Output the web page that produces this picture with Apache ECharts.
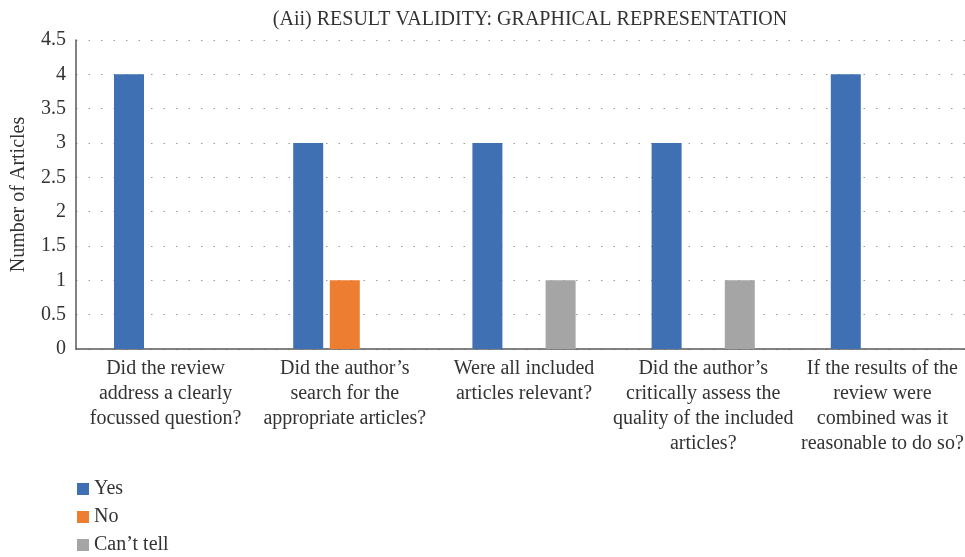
<!DOCTYPE html>
<html>
<head>
<meta charset="utf-8">
<script src="https://cdn.jsdelivr.net/npm/echarts@6/dist/echarts.min.js"></script>
<style>
    html, body { margin: 0; padding: 0; background: #fff; }
    #chart { width: 965px; height: 557px; }
</style>
</head>
<body>
<div id="chart"></div>
<script>
    // chart data
    const categories = [
        'Did the review\naddress a clearly\nfocussed question?',
        'Did the author\u2019s\nsearch for the\nappropriate articles?',
        'Were all included\narticles relevant?',
        'Did the author\u2019s\ncritically assess the\nquality of the included\narticles?',
        'If the results of the\nreview were\ncombined was it\nreasonable to do so?'
    ];
    const yesValues = [4, 3, 3, 3, 4];
    const noValues = [0, 1, 0, 0, 0];
    const cantTellValues = [0, 0, 1, 1, 0];

    const serif = 'Liberation Serif';
    const textColor = '#333';

    let myChart = echarts.init(document.getElementById('chart'));
    myChart.setOption({
        animation: false,
        textStyle: { fontFamily: serif },
        title: {
            text: '(Aii) RESULT VALIDITY: GRAPHICAL REPRESENTATION',
            left: 525,
            textAlign: 'center',
            top: 5,
            textStyle: {
                fontFamily: serif,
                fontWeight: 'normal',
                fontSize: 20,
                color: textColor
            }
        },
        legend: {
            orient: 'vertical',
            left: 77,
            top: 479,
            padding: 0,
            itemWidth: 12,
            itemHeight: 12,
            itemGap: 8,
            icon: 'rect',
            textStyle: {
                fontFamily: serif,
                fontSize: 20,
                lineHeight: 20,
                color: textColor
            },
            data: ['Yes', 'No', 'Can\u2019t tell']
        },
        // plot area runs a little past the right edge, like the source
        grid: {
            left: 76,
            right: -7,
            top: 40,
            bottom: 208,
            outerBoundsMode: 'none'
        },
        xAxis: {
            type: 'category',
            data: categories,
            axisLine: { lineStyle: { color: '#595959', width: 1.5 } },
            axisTick: { show: false },
            axisLabel: {
                interval: 0,
                margin: 7,
                lineHeight: 25,
                fontFamily: serif,
                fontSize: 20,
                color: textColor
            }
        },
        yAxis: {
            type: 'value',
            min: 0,
            max: 4.5,
            interval: 0.5,
            name: 'Number of Articles',
            nameLocation: 'middle',
            nameGap: 47,
            nameTextStyle: {
                fontFamily: serif,
                fontSize: 20,
                color: textColor
            },
            axisLine: { show: true, lineStyle: { color: '#595959', width: 1.5 } },
            axisTick: { show: false },
            axisLabel: {
                margin: 10,
                fontFamily: serif,
                fontSize: 20,
                color: textColor
            },
            splitLine: {
                lineStyle: {
                    color: '#9a9a9a',
                    type: [1.5, 11],
                    width: 1
                }
            }
        },
        series: [
            {
                name: 'Yes',
                type: 'bar',
                barWidth: 30,
                barGap: '22%',
                itemStyle: { color: '#4070b4' },
                data: yesValues
            },
            {
                name: 'No',
                type: 'bar',
                barWidth: 30,
                barGap: '22%',
                itemStyle: { color: '#ed7d31' },
                data: noValues
            },
            {
                name: 'Can\u2019t tell',
                type: 'bar',
                barWidth: 30,
                barGap: '22%',
                itemStyle: { color: '#a5a5a5' },
                data: cantTellValues
            }
        ]
    });
</script>
</body>
</html>
